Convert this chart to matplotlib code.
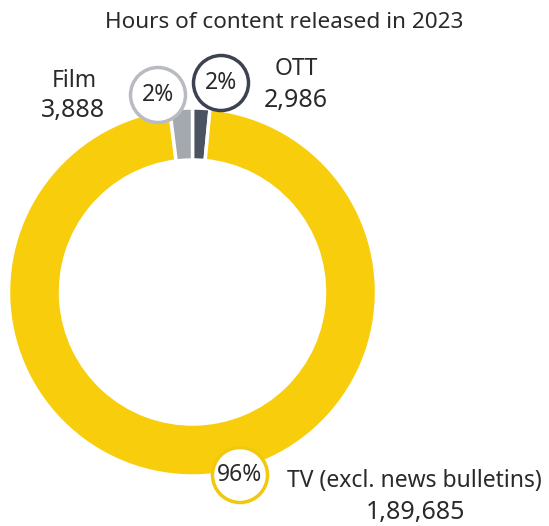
import matplotlib.pyplot as plt
from matplotlib.patches import Circle

# DATA
categorias = ["OTT", "TV (excl. news bulletins)", "Film"]
horas = [2986, 189685, 3888]
rotulos_horas = ["2,986", "1,89,685", "3,888"]
rotulos_pct = ["2%", "96%", "2%"]
cores = ["#4b5262", "#f8cd0c", "#a4a8af"]
bordas_circulo = ["#3c4250", "#f2c80f", "#b8bbc1"]

titulo = "Hours of content released in 2023"

plt.rcParams['font.family'] = ['Noto Sans', 'DejaVu Sans']
cor_texto = "#2a2a2a"

fig = plt.figure(figsize=(5.49, 5.26), dpi=100)
ax = fig.add_axes([0, 0, 1, 1])

# DONUT (COORDENADAS EM PIXELS, Y PARA CIMA)
centro = (192.5, 234)
raio = 184
largura = 52

ax.pie(horas, colors=cores, startangle=90, counterclock=False,
       center=centro, radius=raio,
       wedgeprops=dict(width=largura, edgecolor="white", linewidth=2.5))

ax.set_xlim(0, 549)
ax.set_ylim(0, 526)
ax.set_aspect('auto')
ax.axis('off')

# CIRCULOS COM PORCENTAGENS
pos_circulos = [(221, 443), (240, 51), (158, 431)]
for (cx, cy), pct, borda in zip(pos_circulos, rotulos_pct, bordas_circulo):
    ax.add_patch(Circle((cx, cy), 27.5, facecolor="white", edgecolor=borda,
                        linewidth=2.5, zorder=5))
    ax.text(cx, cy, pct, ha="center", va="center", fontsize=16.5,
            color=cor_texto, zorder=6)

# ROTULOS DAS CATEGORIAS
pos_nome = [(296, 457), (414, 45), (74, 445)]
pos_valor = [(296, 426), (416, 14), (73, 416)]
nomes = categorias
for (nx, ny), (vx, vy), nome, valor in zip(pos_nome, pos_valor, nomes, rotulos_horas):
    ax.text(nx, ny, nome, ha="center", va="center", fontsize=16.5, color=cor_texto)
    ax.text(vx, vy, valor, ha="center", va="center", fontsize=18, color=cor_texto)

ax.text(284, 503, titulo, ha="center", va="center", fontsize=16.2, color=cor_texto)

fig.savefig("out.png", dpi=100, facecolor="white")
